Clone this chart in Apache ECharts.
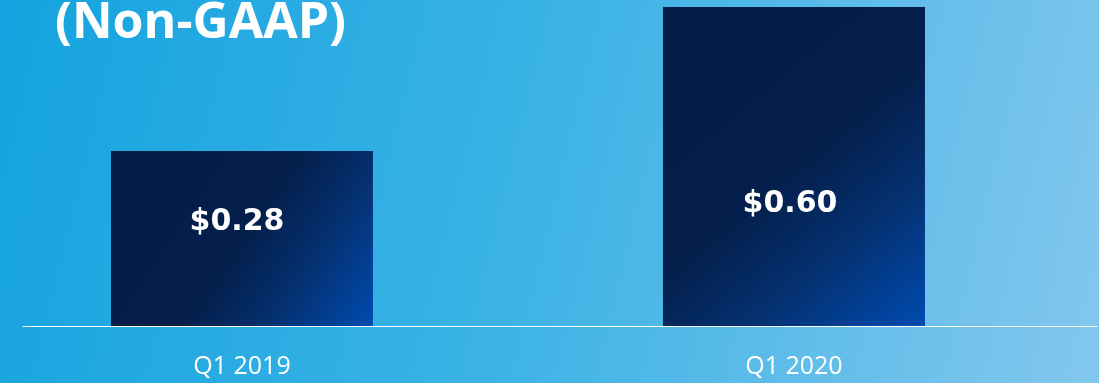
<!DOCTYPE html>
<html>
<head>
<meta charset="utf-8">
<script src="https://cdn.jsdelivr.net/npm/echarts@6/dist/echarts.min.js"></script>
<style>
html,body{margin:0;padding:0;}
#chart{width:1099px;height:383px;}
</style>
</head>
<body>
<div id="chart"></div>
<script>
const categories = ['Q1 2019', 'Q1 2020'];
const epsValues = [0.28, 0.60];
const titleText = '(Non-GAAP)';
const axisBase = -0.109;
const xMin = -0.3967;
const xMax = 1.549;

const chart = echarts.init(document.getElementById('chart'), null, {renderer: 'canvas'});

const barGradient = new echarts.graphic.LinearGradient(0, 0, 1, 1, [
  {offset: 0, color: '#031d47'},
  {offset: 0.5, color: '#041f4b'},
  {offset: 0.72, color: '#05306f'},
  {offset: 1, color: '#004bb0'}
]);

const labelOffsets = [[-5, -16], [-4, 38]];

chart.setOption({
  backgroundColor: new echarts.graphic.LinearGradient(0, 0, 1, 0.7, [
    {offset: 0, color: '#14a3df'},
    {offset: 0.5, color: '#3cb3e5'},
    {offset: 1, color: '#80c6ed'}
  ]),
  animation: false,
  title: {
    text: titleText,
    left: 50,
    top: -6,
    textStyle: {color: '#ffffff', fontFamily: 'Open Sans', fontWeight: 'bold', fontSize: 50}
  },
  grid: {left: 23, right: 2, top: 7, bottom: 57, containLabel: false},
  xAxis: {
    type: 'value', min: xMin, max: xMax,
    axisLine: {show: true, onZero: false, lineStyle: {color: '#ffffff', width: 1}},
    axisTick: {show: false},
    splitLine: {show: false},
    axisLabel: {
      customValues: categories.map((c, i) => i),
      formatter: v => categories[Math.round(v)],
      color: '#ffffff', fontFamily: 'Open Sans', fontSize: 25, margin: 28
    }
  },
  yAxis: {type: 'value', min: axisBase, max: 0.60, startValue: axisBase, show: false, splitLine: {show: false}},
  series: [{
    type: 'bar',
    barWidth: 262,
    data: epsValues.map((v, i) => ({
      value: [i, v],
      label: {offset: labelOffsets[i]}
    })),
    itemStyle: {color: barGradient},
    label: {
      show: true, position: 'inside',
      formatter: p => '$' + p.value[1].toFixed(2),
      color: '#ffffff', fontFamily: 'DejaVu Sans', fontWeight: 'bold', fontSize: 30
    }
  }]
});
</script>
</body>
</html>
